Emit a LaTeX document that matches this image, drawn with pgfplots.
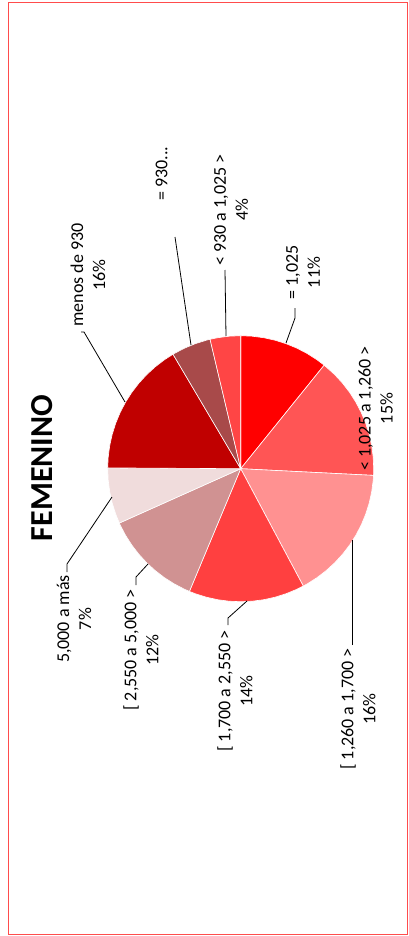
\documentclass[border=0pt]{standalone}
\usepackage{pgfplots}
\pgfplotsset{compat=1.18}
\usepgfplotslibrary{polar}
\usepackage{fontspec}
\setmainfont{Carlito}

\definecolor{c1}{RGB}{255,0,0}
\definecolor{c2}{RGB}{255,85,85}
\definecolor{c3}{RGB}{255,145,145}
\definecolor{c4}{RGB}{255,64,64}
\definecolor{c5}{RGB}{208,146,146}
\definecolor{c6}{RGB}{240,220,220}
\definecolor{c7}{RGB}{192,0,0}
\definecolor{c8}{RGB}{168,74,74}
\definecolor{c9}{RGB}{255,69,69}

\begin{document}
\begin{tikzpicture}[x=1pt,y=1pt,
    lbl/.style={font=\fontsize{18}{22}\selectfont, rotate=90, align=center, inner sep=0pt},
    lead/.style={draw=black, line width=0.8pt}]
\useasboundingbox (0,0) rectangle (409,-936);
\draw[color=red!70, line width=1pt] (8.5,-2.5) rectangle (407.5,-934.5);

% shares (%), clockwise from the top:
% 10.8, 15.0, 16.4, 14.1, 12.0, 6.8, 16.4, 4.8, 3.7  -> 3.6 degrees per %
\begin{polaraxis}[
    at={(240.7pt,-468.7pt)}, anchor=center,
    scale only axis, width=266pt, height=266pt,
    ymin=0, ymax=1, hide axis, clip=false,
    every axis plot/.append style={draw=white, line width=0.6pt, mark=none},
]
% = 1,025
\addplot[fill=c1] coordinates {(0,0) (90,1) (85,1) (80,1) (75,1) (70,1) (65,1) (60,1) (55,1) (51.12,1) (0,0)};
% < 1,025 a 1,260 >
\addplot[fill=c2] coordinates {(0,0) (51.12,1) (45,1) (40,1) (35,1) (30,1) (25,1) (20,1) (15,1) (10,1) (5,1) (0,1) (-2.88,1) (0,0)};
% [ 1,260 a 1,700 >
\addplot[fill=c3] coordinates {(0,0) (-2.88,1) (-5,1) (-10,1) (-15,1) (-20,1) (-25,1) (-30,1) (-35,1) (-40,1) (-45,1) (-50,1) (-55,1) (-60,1) (-61.92,1) (0,0)};
% [ 1,700 a 2,550 >
\addplot[fill=c4] coordinates {(0,0) (-61.92,1) (-65,1) (-70,1) (-75,1) (-80,1) (-85,1) (-90,1) (-95,1) (-100,1) (-105,1) (-110,1) (-112.68,1) (0,0)};
% [ 2,550 a 5,000 >
\addplot[fill=c5] coordinates {(0,0) (-112.68,1) (-115,1) (-120,1) (-125,1) (-130,1) (-135,1) (-140,1) (-145,1) (-150,1) (-155,1) (-155.88,1) (0,0)};
% 5,000 a más
\addplot[fill=c6] coordinates {(0,0) (-155.88,1) (-160,1) (-165,1) (-170,1) (-175,1) (-180,1) (-180.36,1) (0,0)};
% menos de 930
\addplot[fill=c7] coordinates {(0,0) (-180.36,1) (-185,1) (-190,1) (-195,1) (-200,1) (-205,1) (-210,1) (-215,1) (-220,1) (-225,1) (-230,1) (-235,1) (-239.4,1) (0,0)};
% = 930
\addplot[fill=c8] coordinates {(0,0) (-239.4,1) (-240,1) (-245,1) (-250,1) (-255,1) (-256.68,1) (0,0)};
% < 930 a 1,025 >
\addplot[fill=c9] coordinates {(0,0) (-256.68,1) (-260,1) (-265,1) (-270,1) (0,0)};
\end{polaraxis}

% title
\node[rotate=90, font=\fontsize{32}{38}\selectfont\bfseries] at (42.5,-468) {FEMENINO};

% labels
\node[lbl] at (303,-272.5) {= 1,025\\11\%};
\node[lbl] at (231,-210) {< 930 a 1,025 >\\4\%};
\node[lbl] at (161.5,-173.5) {= 930...};
\node[lbl] at (88,-275) {menos de 930\\16\%};
\node[lbl] at (74,-619) {5,000 a más\\7\%};
\node[lbl] at (141,-650) {[ 2,550 a 5,000 >\\12\%};
\node[lbl] at (235,-691) {[ 1,700 a 2,550 >\\14\%};
\node[lbl] at (358,-709) {[ 1,260 a 1,700 >\\16\%};
\node[lbl] at (375.5,-408.5) {< 1,025 a 1,260 >\\15\%};

% leader lines
\draw[lead] (295,-308) -- (295,-318) -- (286,-343);
\draw[lead] (225,-270) -- (226,-336);
\draw[lead] (175,-237) -- (191,-345);
\draw[lead] (81,-332) -- (84,-332) -- (125,-402);
\draw[lead] (67,-572) -- (67,-564) -- (112,-497);
\draw[lead] (136,-585) -- (136,-577) -- (148,-564);
\draw[lead] (228,-625) -- (228,-618) -- (247,-601);
\draw[lead] (352,-645) -- (352,-540);
\end{tikzpicture}
\end{document}
